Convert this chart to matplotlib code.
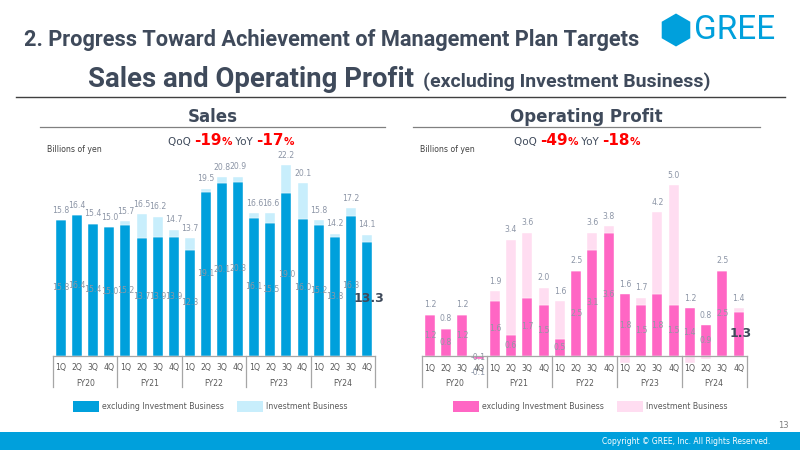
import matplotlib
matplotlib.use("Agg")
import matplotlib.pyplot as plt
from matplotlib.patches import Rectangle, RegularPolygon
from matplotlib.transforms import blended_transform_factory

# ---------------- data ----------------
quarters = ['1Q', '2Q', '3Q', '4Q']
fiscal_years = ['FY20', 'FY21', 'FY22', 'FY23', 'FY24']

sales_total = [15.8, 16.4, 15.4, 15.0, 15.7, 16.5, 16.2, 14.7, 13.7, 19.5,
               20.8, 20.9, 16.6, 16.6, 22.2, 20.1, 15.8, 14.2, 17.2, 14.1]
sales_excl = [15.8, 16.4, 15.4, 15.0, 15.2, 13.7, 13.9, 13.9, 12.3, 19.1,
              20.1, 20.3, 16.1, 15.5, 19.0, 16.0, 15.2, 13.8, 16.3, 13.3]

op_total = [1.2, 0.8, 1.2, -0.1, 1.9, 3.4, 3.6, 2.0, 1.6, 2.5,
            3.6, 3.8, 1.6, 1.7, 4.2, 5.0, 1.2, 0.8, 2.5, 1.4]
op_excl = [1.2, 0.8, 1.2, -0.1, 1.6, 0.6, 1.7, 1.5, 0.5, 2.5,
           3.1, 3.6, 1.8, 1.5, 1.8, 1.5, 1.4, 0.9, 2.5, 1.3]

sales_change = ('-19', '-17')
op_change = ('-49', '-18')

# ---------------- style ----------------
BLUE = '#00a0dc'
LBLUE = '#c8eefc'
PINK = '#ff66c4'
LPINK = '#ffddf1'
DARK = '#3f4a5b'
LABEL = '#8c95a6'
AXIS = '#a6a6a6'
RED = '#ff0000'
FONT = 'DejaVu Sans'
TFONT = 'Roboto'

fig = plt.figure(figsize=(8, 4.5), dpi=100)
fig.patch.set_facecolor('white')
ov = fig.add_axes([0, 0, 1, 1])
ov.set_xlim(0, 800)
ov.set_ylim(450, 0)
ov.axis('off')

# header
ov.text(24, 40, '2. Progress Toward Achievement of Management Plan Targets',
        fontsize=15.7, fontweight='bold', color=DARK, family=TFONT,
        va='center', ha='left')
ov.add_patch(RegularPolygon((676, 30), numVertices=6, radius=16.5,
                            orientation=0, color=BLUE, lw=0))
ov.text(694, 30, 'GREE', fontsize=24, color=BLUE, family=TFONT,
        va='center', ha='left')
t1 = ov.text(88, 87, 'Sales and Operating Profit', fontsize=19.8,
             fontweight='bold', color=DARK, family=TFONT, va='baseline', ha='left')
fig.canvas.draw()
r = fig.canvas.get_renderer()
x1 = t1.get_window_extent(r).x1
ov.text(x1 + 9, 87, '(excluding Investment Business)', fontsize=14,
        fontweight='bold', color=DARK, family=TFONT, va='baseline', ha='left')
ov.plot([16, 785], [97, 97], color='#404040', lw=1.0)

# footer
ov.add_patch(Rectangle((0, 432), 800, 18, color='#00a0dc', lw=0))
ov.text(770, 441, 'Copyright \u00a9 GREE, Inc. All Rights Reserved.',
        fontsize=5.5, color='white', family=FONT, ha='right', va='center')
ov.text(789, 425, '13', fontsize=6, color='#7f7f7f', family=FONT,
        ha='right', va='center')


def seq_text(x, y, parts):
    fig.canvas.draw()
    rr = fig.canvas.get_renderer()
    for s, size, col, wt in parts:
        t = ov.text(x, y, s, fontsize=size, color=col, fontweight=wt,
                    family=FONT, va='baseline', ha='left')
        x = t.get_window_extent(rr).x1


def panel(rect, ymax, excl, total, c_main, c_light, title, cx, line_x,
          change, legend_x):
    ax = fig.add_axes(rect)
    ax.axis('off')
    n = len(excl)
    ax.set_xlim(-0.5, n - 0.5)
    ax.set_ylim(0, ymax)
    bt = blended_transform_factory(ax.transData, ov.transData)
    base_px = 450 - rect[1] * 450
    xs = list(range(n))
    inv = [round(t - e, 1) for t, e in zip(total, excl)]
    ax.bar(xs, excl, width=0.62, color=c_main, clip_on=False, zorder=2,
           edgecolor='white', linewidth=0.3)
    bottoms = [max(e, 0) if v >= 0 else min(e, 0) for e, v in zip(excl, inv)]
    ax.bar(xs, inv, bottom=bottoms, width=0.62, color=c_light,
           clip_on=False, zorder=2, edgecolor='white', linewidth=0.3)
    for i in xs:
        top = max(excl[i], excl[i] + inv[i], 0) if total[i] >= 0 else min(excl[i], 0)
        off = 10 if total[i] >= 0 else -13
        ax.annotate(f'{total[i]:.1f}', (i, top), xytext=(0, off),
                    textcoords='offset pixels', ha='center', va='center',
                    fontsize=5.6, color=LABEL, family=FONT, zorder=4,
                    annotation_clip=False)
        if i == n - 1:
            ax.text(i + 0.15, excl[i] / 2, f'{excl[i]:.1f}', ha='center',
                    va='center', fontsize=9, fontweight='bold', color=DARK,
                    family=FONT, zorder=5)
        else:
            ax.text(i, excl[i] / 2, f'{excl[i]:.1f}', ha='center',
                    va='center', fontsize=5.6, color='#9098a4', family=FONT,
                    zorder=4)
    # category axis
    ax.plot([-0.5, n - 0.5], [base_px, base_px], color=AXIS, lw=0.9,
            transform=bt, clip_on=False, zorder=3)
    for k in range(len(fiscal_years) + 1):
        xb = -0.5 + 4 * k
        ax.plot([xb, xb], [base_px, base_px + 31], color=AXIS, lw=0.9,
                transform=bt, clip_on=False)
    for i in xs:
        ax.text(i, base_px + 12, quarters[i % 4], ha='center', va='center',
                fontsize=5.6, color='#595959', family=FONT, transform=bt)
    for k, fy in enumerate(fiscal_years):
        ax.text(1.5 + 4 * k, base_px + 27.5, fy, ha='center', va='center',
                fontsize=5.6, color='#595959', family=FONT, transform=bt)
    # panel headers
    ov.text(cx, 117, title, fontsize=12, fontweight='bold', color=DARK,
            family=FONT, ha='center', va='center')
    ov.plot(line_x, [127, 127], color='#808080', lw=0.9)
    ov.text(line_x[0] + 7, 150, 'Billions of yen', fontsize=5.6,
            color='#404040', family=FONT, ha='left', va='center')
    # legend
    lx = legend_x
    ov.add_patch(Rectangle((lx, 401), 26, 11, color=c_main, lw=0))
    ov.text(lx + 29, 406.5, 'excluding Investment Business', fontsize=5.6,
            color='#595959', family=FONT, va='center')
    ov.add_patch(Rectangle((lx + 164, 401), 26, 11, color=c_light, lw=0))
    ov.text(lx + 193, 406.5, 'Investment Business', fontsize=5.6,
            color='#595959', family=FONT, va='center')
    return ax


panel([53 / 800, (450 - 355.5) / 450, 322 / 800, 205 / 450], 205 / 8.56,
      sales_excl, sales_total, BLUE, LBLUE, 'Sales', 213, [40, 385],
      sales_change, 73)
panel([421.7 / 800, (450 - 356) / 450, 325 / 800, 205 / 450], 205 / 34.2,
      op_excl, op_total, PINK, LPINK, 'Operating Profit', 586, [413, 760],
      op_change, 453)

seq_text(168, 145, [('QoQ ', 7.5, DARK, 'normal'),
                    (sales_change[0], 11, RED, 'bold'),
                    ('%', 7.5, RED, 'bold'),
                    (' YoY ', 7.5, DARK, 'normal'),
                    (sales_change[1], 11, RED, 'bold'),
                    ('%', 7.5, RED, 'bold')])
seq_text(514, 145, [('QoQ ', 7.5, DARK, 'normal'),
                    (op_change[0], 11, RED, 'bold'),
                    ('%', 7.5, RED, 'bold'),
                    (' YoY ', 7.5, DARK, 'normal'),
                    (op_change[1], 11, RED, 'bold'),
                    ('%', 7.5, RED, 'bold')])

fig.savefig('out.png', dpi=100, facecolor='white')
